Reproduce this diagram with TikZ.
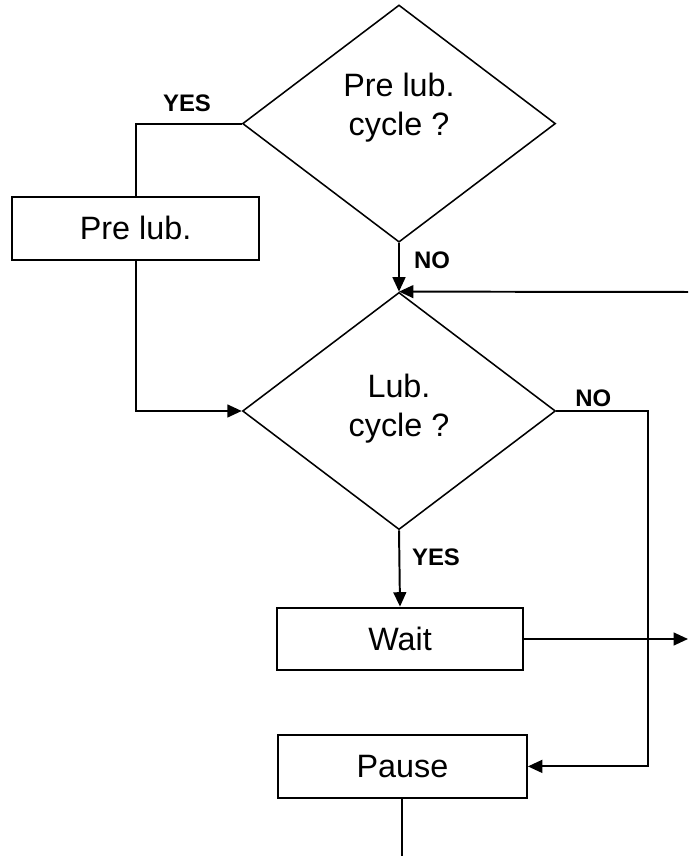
\documentclass[tikz,border=0pt]{standalone}
\usepackage{fontspec}
\setmainfont{Liberation Sans}
\usetikzlibrary{arrows.meta}
\usetikzlibrary{shapes.geometric}
\tikzset{
	caja/.style={draw, line width=1.4pt, minimum width=6.2cm, minimum height=1.57cm, font=\fontsize{23}{28}\selectfont},
	rombo/.style={draw, diamond, line width=1.1pt, minimum width=7.825cm, minimum height=5.93cm, inner sep=0pt, align=center, font=\fontsize{23}{28}\selectfont},
	linea/.style={line width=1.4pt},
	flecha/.style={line width=1.4pt, -{Triangle[length=3.6mm,width=3.2mm]}},
	etiq/.style={font=\fontsize{17}{20}\selectfont\bfseries},
}
\begin{document}
\begin{tikzpicture}
	\useasboundingbox (0,0) rectangle (17.2,21.4);
	\node[rombo, text depth=0.95cm] (preciclo) at (9.975,18.31) {Pre lub.\\cycle ?}; %primera decision
	\node[rombo, text depth=0.3cm] (ciclo) at (9.975,11.125) {Lub.\\cycle ?}; %segunda decision
	\node[caja, minimum width=6.175cm] (prelub) at (3.39,15.69) {Pre lub.}; %caja pre lub
	\node[caja, minimum width=6.15cm] (espera) at (10.0,5.425) {Wait}; %caja wait
	\node[caja, minimum width=6.225cm] (pausa) at (10.06,2.24) {Pause}; %caja pause
	\coordinate (vuelta) at (17.2,14.1); %entrada por la derecha
	\coordinate (salida) at (17.2,5.425); %salida por la derecha
	\coordinate (esquina) at (16.2,11.125); %esquina de NO
	\coordinate (fin) at (10.06,0); %salida por abajo
	\draw[linea] (preciclo.west) -| (prelub.north); %rama YES
	\draw[flecha] (prelub.south) |- (ciclo.west);
	\draw[flecha] (preciclo.south) -- (ciclo.north); %rama NO
	\draw[flecha] (vuelta) -- (ciclo.north);
	\draw[flecha] (ciclo.south) -- (espera.north); %rama YES
	\draw[flecha] (espera.east) -- (salida);
	\draw[flecha] (ciclo.east) -- (esquina) |- (pausa.east); %rama NO
	\draw[linea] (pausa.south) -- (fin);
	\node[etiq] (si1) at (4.675,18.83) {YES}; %etiquetas
	\node[etiq] (no1) at (10.8,14.9) {NO};
	\node[etiq] (no2) at (14.83,11.45) {NO};
	\node[etiq] (si2) at (10.9,7.475) {YES};
\end{tikzpicture}
\end{document}
